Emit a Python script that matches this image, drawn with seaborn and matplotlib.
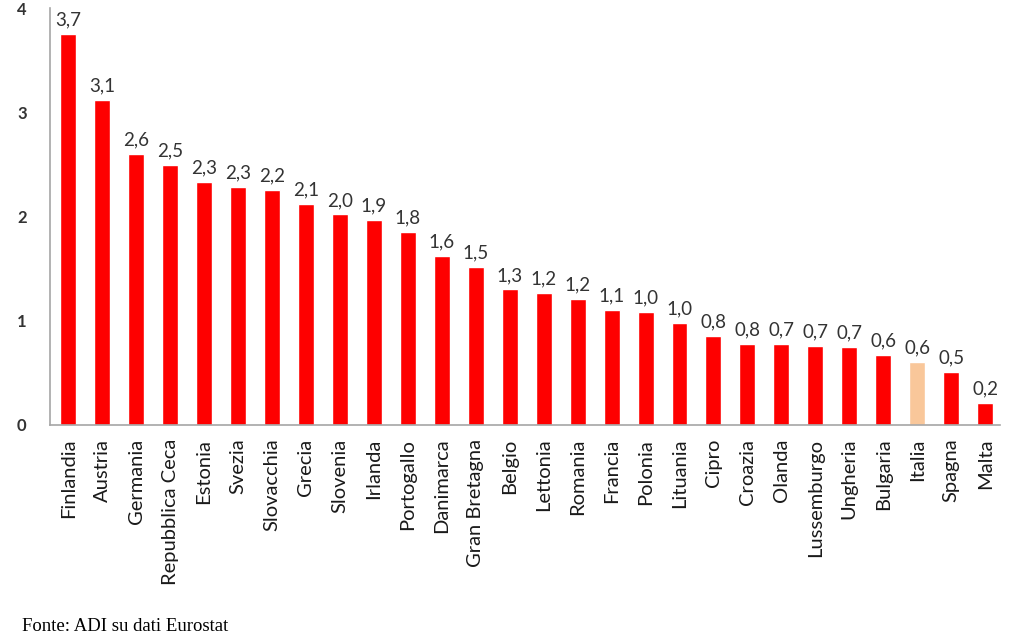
import matplotlib as mpl
mpl.use("Agg")
import matplotlib.pyplot as plt
import seaborn as sns

countries = ["Finlandia", "Austria", "Germania", "Repubblica Ceca", "Estonia", "Svezia",
             "Slovacchia", "Grecia", "Slovenia", "Irlanda", "Portogallo", "Danimarca",
             "Gran Bretagna", "Belgio", "Lettonia", "Romania", "Francia", "Polonia",
             "Lituania", "Cipro", "Croazia", "Olanda", "Lussemburgo", "Ungheria",
             "Bulgaria", "Italia", "Spagna", "Malta"]
values = [3.75, 3.12, 2.60, 2.50, 2.33, 2.28, 2.26, 2.12, 2.02, 1.97, 1.85, 1.62,
          1.52, 1.30, 1.27, 1.21, 1.10, 1.08, 0.98, 0.85, 0.78, 0.78, 0.76, 0.75,
          0.67, 0.60, 0.51, 0.21]
labels = ["3,7", "3,1", "2,6", "2,5", "2,3", "2,3", "2,2", "2,1", "2,0", "1,9", "1,8", "1,6",
          "1,5", "1,3", "1,2", "1,2", "1,1", "1,0", "1,0", "0,8", "0,8", "0,7", "0,7", "0,7",
          "0,6", "0,6", "0,5", "0,2"]
highlight = "Italia"
yticks = [0, 1, 2, 3, 4]

red = "#fe0000"
peach = "#f9c79a"
grey = "#a6a6a6"
text_col = "#333333"

sns.set_style("white")
plt.rcParams["font.family"] = ["Lato", "DejaVu Sans"]

fig = plt.figure(figsize=(10.24, 6.37), dpi=100)
ax = fig.add_axes([0.049, 0.333, 0.928, 0.654])

colors = [peach if c == highlight else red for c in countries]
sns.barplot(x=countries, y=values, hue=countries, palette=colors, legend=False,
            width=0.47, saturation=1, ax=ax)

for cont, lab in zip(ax.containers, labels):
    ax.bar_label(cont, labels=[lab], padding=4, fontsize=13.5, color=text_col,
                 clip_on=False)

ax.set_ylim(0, 4)
ax.set_xlim(-0.53, 27.45)
ax.set_yticks(yticks)
ax.set_yticklabels([str(t) for t in yticks], fontsize=12, color=text_col,
                   fontweight="bold")
ax.tick_params(axis="y", length=0, pad=17)
ax.tick_params(axis="x", length=0, pad=10, labelsize=14.5, labelcolor="#1a1a1a")
for lbl in ax.get_xticklabels():
    lbl.set_rotation(90)

ax.set_xlabel("")
ax.set_ylabel("")
ax.spines["top"].set_visible(False)
ax.spines["right"].set_visible(False)
ax.spines["left"].set_color(grey)
ax.spines["bottom"].set_color(grey)
ax.spines["left"].set_linewidth(1.2)
ax.spines["bottom"].set_linewidth(1.2)

fig.text(0.021, 0.01, "Fonte: ADI su dati Eurostat", family="Liberation Serif",
         fontsize=13.5, color="black")

plt.savefig("out.png", dpi=100)
plt.close()
